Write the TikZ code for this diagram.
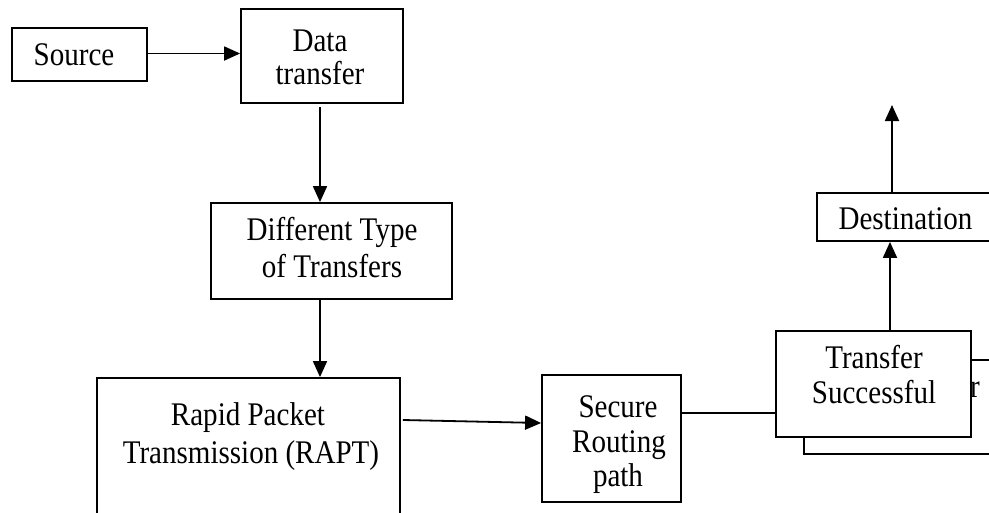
\documentclass[tikz,border=0pt]{standalone}
\usepackage{fontspec}
\setmainfont{Liberation Serif}[FakeStretch=0.88]
\usetikzlibrary{arrows.meta}

\begin{document}
\begin{tikzpicture}[x=1pt,y=-1pt,
  box/.style={draw, line width=1.8pt, inner sep=0pt, fill=white},
  lbl/.style={anchor=base, inner sep=0pt, font=\fontsize{33}{38}\selectfont},
  flow/.style={line width=1.8pt, -{Triangle[length=16pt,width=14pt]}},
  link/.style={line width=1.8pt}]
\useasboundingbox (0,0) rectangle (989,512);

% boxes
\node[box, minimum width=135, minimum height=53] (src) at (79.5,54.5) {};
\node[box, minimum width=162, minimum height=94] (dt) at (322,56) {};
\node[box, minimum width=241, minimum height=96] (diff) at (331.5,251) {};
\node[box, minimum width=303, minimum height=162] (rapt) at (248.5,459) {};
\node[box, minimum width=139, minimum height=127] (sec) at (611.5,438.5) {};
\node[box, minimum width=206, minimum height=94] (back) at (907,407) {};
\node[box, minimum width=195, minimum height=106] (ok) at (873.5,384) {};
\node[box, minimum width=193, minimum height=48] (dest) at (913.5,217) {};

% labels
\node[lbl] (src-t) at (74,65) {Source};
\node[lbl] (dt-t1) at (320,51) {Data};
\node[lbl] (dt-t2) at (320,84) {transfer};
\node[lbl] (diff-t1) at (332,240) {Different Type};
\node[lbl] (diff-t2) at (332,277) {of Transfers};
\node[lbl] (rapt-t1) at (248,425) {Rapid Packet};
\node[lbl] (rapt-t2) at (251,463) {Transmission (RAPT)};
\node[lbl] (sec-t1) at (618,417) {Secure};
\node[lbl] (sec-t2) at (619,452) {Routing};
\node[lbl] (sec-t3) at (618,486) {path};
\node[lbl] (ok-t1) at (874,368) {Transfer};
\node[lbl] (ok-t2) at (874,403) {Successful};
\node[lbl] (back-t) at (975,397) {r};
\node[lbl] (dest-t) at (905.5,229) {Destination};

% connectors
\coordinate (out) at (892,105);
\draw[flow] ([yshift=1pt]src.east) -- ([yshift=1pt]src.east -| dt.west);
\draw[flow, shorten <=3pt] ([xshift=-2pt]dt.south) -- ([xshift=-2pt]dt.south |- diff.north);
\draw[flow] ([xshift=-2pt]dt.south |- diff.south) -- ([xshift=-2pt]dt.south |- rapt.north);
\draw[flow] ([shift={(2pt,39pt)}]rapt.east) -- ([yshift=15.5pt]sec.west);
\draw[link] ([yshift=25.5pt]sec.east) -- ([yshift=25.5pt]sec.east -| ok.west);
\draw[flow] ([xshift=16.5pt]ok.north) -- ([xshift=16.5pt]ok.north |- dest.south);
\draw[flow] (out |- dest.north) -- (out);
\end{tikzpicture}
\end{document}
